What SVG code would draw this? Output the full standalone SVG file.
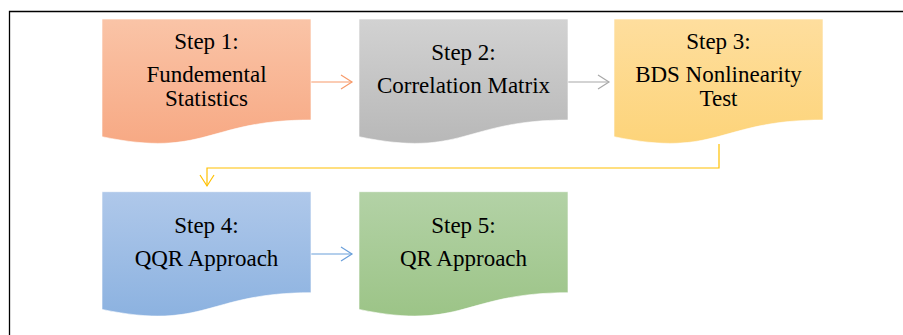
<svg xmlns="http://www.w3.org/2000/svg" width="903" height="335" viewBox="0 0 903 335">
<defs>
<linearGradient id="gOrange" x1="0" y1="0" x2="0" y2="1"><stop offset="0" stop-color="#FAC4A7"/><stop offset="1" stop-color="#F7A984"/></linearGradient>
<linearGradient id="gGray" x1="0" y1="0" x2="0" y2="1"><stop offset="0" stop-color="#D2D2D2"/><stop offset="1" stop-color="#B8B8B8"/></linearGradient>
<linearGradient id="gYellow" x1="0" y1="0" x2="0" y2="1"><stop offset="0" stop-color="#FEDE9E"/><stop offset="1" stop-color="#FDD47A"/></linearGradient>
<linearGradient id="gBlue" x1="0" y1="0" x2="0" y2="1"><stop offset="0" stop-color="#AFC8EA"/><stop offset="1" stop-color="#8CB2E0"/></linearGradient>
<linearGradient id="gGreen" x1="0" y1="0" x2="0" y2="1"><stop offset="0" stop-color="#B3D2A6"/><stop offset="1" stop-color="#9CC487"/></linearGradient>
<marker id="aOrange" markerWidth="14" markerHeight="16" refX="12" refY="8" orient="auto" markerUnits="userSpaceOnUse"><path d="M1,1 L12,8 L1,15" fill="none" stroke="#F79A6A" stroke-width="1.2"/></marker>
<marker id="aGray" markerWidth="14" markerHeight="16" refX="12" refY="8" orient="auto" markerUnits="userSpaceOnUse"><path d="M1,1 L12,8 L1,15" fill="none" stroke="#A8A8A8" stroke-width="1.2"/></marker>
<marker id="aYellow" markerWidth="14" markerHeight="16" refX="12" refY="8" orient="auto" markerUnits="userSpaceOnUse"><path d="M1,1 L12,8 L1,15" fill="none" stroke="#FFC000" stroke-width="1.2"/></marker>
<marker id="aBlue" markerWidth="14" markerHeight="16" refX="12" refY="8" orient="auto" markerUnits="userSpaceOnUse"><path d="M1,1 L12,8 L1,15" fill="none" stroke="#6A9FDA" stroke-width="1.2"/></marker>
</defs>
<style>
text{font-family:"Liberation Serif","Times New Roman",serif;font-size:23px;fill:#000;text-anchor:middle}
.doc{stroke:#ffffff;stroke-width:1;stroke-opacity:0.6}
.conn{fill:none;stroke-width:1.2}
</style>
<rect width="903" height="335" fill="#ffffff"/>
<path d="M9.5,335 V11.5 H903" fill="none" stroke="#000" stroke-width="1.3"/>
<g id="connectors">
<path class="conn" d="M311,82 H352" stroke="#F79A6A" marker-end="url(#aOrange)"/>
<path class="conn" d="M568,82 H609" stroke="#A8A8A8" marker-end="url(#aGray)"/>
<path class="conn" d="M719,144 V168 H207 V186" stroke="#FFC000" marker-end="url(#aYellow)"/>
<path class="conn" d="M311,254 H352" stroke="#6A9FDA" marker-end="url(#aBlue)"/>
</g>
<g id="step1">
<path class="doc" d="M102,19 H311 V120 C206.5,120 206.5,158.5 102,136.7 Z" fill="url(#gOrange)"/>
<text x="206.5" y="49">Step 1:</text>
<text x="206.5" y="81.5">Fundemental</text>
<text x="206.5" y="105.5">Statistics</text>
</g>
<g id="step2">
<path class="doc" d="M359,19 H568 V120 C463.5,120 463.5,158.5 359,136.7 Z" fill="url(#gGray)"/>
<text x="463.5" y="60">Step 2:</text>
<text x="463.5" y="93">Correlation Matrix</text>
</g>
<g id="step3">
<path class="doc" d="M614,19 H823 V120 C718.5,120 718.5,158.5 614,136.7 Z" fill="url(#gYellow)"/>
<text x="718.5" y="49">Step 3:</text>
<text x="718.5" y="81.5">BDS Nonlinearity</text>
<text x="718.5" y="105.5">Test</text>
</g>
<g id="step4">
<path class="doc" d="M102,191.7 H311 V292.7 C206.5,292.7 206.5,331.2 102,309.4 Z" fill="url(#gBlue)"/>
<text x="206.5" y="233">Step 4:</text>
<text x="206.5" y="266">QQR Approach</text>
</g>
<g id="step5">
<path class="doc" d="M359,191.7 H568 V292.7 C463.5,292.7 463.5,331.2 359,309.4 Z" fill="url(#gGreen)"/>
<text x="463.5" y="233">Step 5:</text>
<text x="463.5" y="266">QR Approach</text>
</g>
</svg>
